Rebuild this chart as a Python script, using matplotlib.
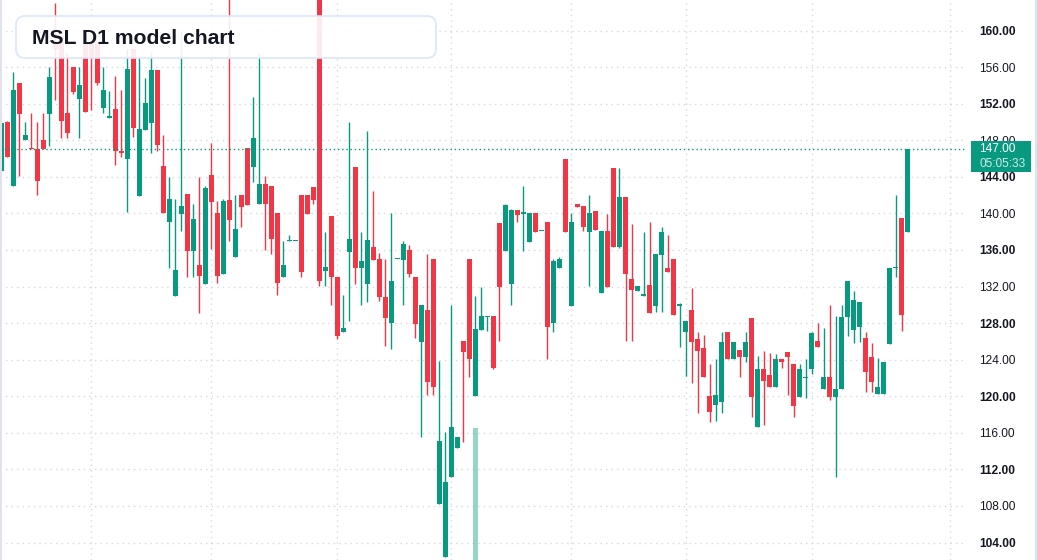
import matplotlib.pyplot as plt
from matplotlib.patches import FancyBboxPatch, Rectangle
from matplotlib.lines import Line2D
import numpy as np

plt.rcParams["font.family"] = ["Liberation Sans", "DejaVu Sans"]

# daily candles, oldest first
opens = [
    144.67, 150.01, 143.05, 154.28, 148.0, 147.06, 147.02, 148.04, 150.92, 158.8,
    158.8, 150.96, 155.99, 152.53, 158.6, 158.8, 158.8, 151.58, 150.38, 151.43,
    146.84, 146.0, 157.96, 141.95, 149.17, 149.94, 155.7, 145.13, 139.01, 131.01,
    139.98, 142.13, 135.89, 134.37, 132.3, 144.2, 140.02, 133.39, 141.47, 135.22,
    141.97, 147.12, 145.06, 141.08, 143.18, 142.99, 140.02, 133.08, 136.94, 136.94,
    142.01, 142.01, 142.87, 164.5, 133.66, 139.71, 133.04, 127.03, 135.81, 145.06,
    133.98, 132.3, 136.32, 135.03, 130.86, 127.97, 135.03, 134.95, 136.0, 133.04,
    125.98, 129.45, 135.03, 108.19, 102.4, 111.15, 114.35, 126.06, 135.03, 120.01,
    127.3, 128.67, 128.79, 138.97, 135.89, 132.3, 140.37, 139.98, 136.86, 140.02,
    138.03, 139.05, 127.97, 134.05, 145.95, 129.88, 141.04, 140.8, 137.96, 140.26,
    131.24, 138.07, 144.98, 136.28, 141.78, 132.84, 131.52, 131.01, 132.18, 129.88,
    135.5, 134.05, 135.03, 129.92, 127.03, 129.45, 126.29, 125.31, 120.05, 118.99,
    119.42, 127.03, 124.03, 125.08, 124.3, 128.59, 116.61, 123.01, 122.35, 121.06,
    124.1, 124.81, 123.56, 119.97, 122.0, 122.93, 126.06, 120.75, 122.08, 119.97,
    120.75, 128.67, 127.3, 127.54, 126.41, 124.3, 120.28, 120.28, 125.67, 134.01,
    139.52, 137.96,
]
highs = [
    149.9, 150.16, 155.48, 154.3, 150.01, 151.0, 150.01, 151.0, 155.99, 162.98,
    158.9, 157.5, 156.0, 155.99, 159.0, 158.9, 158.9, 155.99, 153.4, 155.0,
    153.51, 157.96, 158.0, 157.0, 154.79, 157.7, 155.7, 148.59, 143.96, 141.58,
    160.0, 142.13, 141.0, 143.93, 143.03, 147.71, 141.35, 141.58, 165.0, 141.97,
    141.97, 147.12, 152.78, 157.5, 144.04, 143.0, 140.02, 136.94, 137.64, 136.94,
    142.01, 142.01, 142.87, 164.5, 137.96, 139.71, 133.04, 131.09, 149.97, 145.06,
    137.96, 149.0, 142.44, 135.69, 135.03, 140.02, 135.03, 136.98, 136.55, 133.04,
    129.96, 135.54, 135.03, 123.83, 116.1, 129.96, 115.56, 126.06, 135.03, 131.01,
    131.99, 128.79, 128.79, 138.97, 141.04, 140.49, 140.37, 142.99, 140.02, 140.02,
    138.03, 139.05, 135.03, 135.19, 145.95, 140.02, 141.04, 140.8, 142.05, 140.26,
    138.07, 139.98, 144.98, 144.98, 141.78, 138.85, 132.06, 137.96, 139.05, 135.58,
    138.5, 137.64, 135.03, 130.15, 128.24, 131.87, 127.03, 126.72, 123.52, 124.1,
    127.03, 127.03, 125.94, 125.08, 127.03, 128.59, 124.42, 124.96, 124.77, 124.61,
    124.1, 124.81, 123.56, 123.52, 124.1, 127.03, 128.01, 127.42, 130.03, 128.79,
    130.03, 132.61, 131.52, 130.31, 127.03, 125.86, 124.22, 123.75, 134.05, 142.01,
    139.52, 147.0,
]
lows = [
    144.6, 146.2, 143.0, 144.14, 148.0, 147.0, 142.06, 147.0, 147.42, 152.42,
    148.22, 148.22, 153.1, 148.22, 151.1, 151.3, 154.06, 151.03, 150.38, 145.34,
    146.15, 140.13, 148.33, 141.95, 149.17, 146.66, 146.77, 140.0, 134.05, 131.0,
    138.07, 133.08, 133.08, 129.06, 132.3, 136.12, 132.41, 133.39, 136.98, 135.22,
    138.46, 140.96, 143.42, 141.0, 136.0, 135.61, 131.09, 133.08, 136.94, 136.94,
    133.08, 139.98, 141.08, 132.1, 132.1, 130.03, 126.25, 127.03, 128.2, 132.3,
    130.03, 130.27, 134.9, 130.43, 125.55, 125.16, 135.03, 130.03, 133.08, 126.33,
    115.52, 120.09, 120.09, 108.19, 102.4, 111.15, 114.35, 115.05, 122.08, 120.0,
    127.3, 127.15, 123.01, 126.06, 135.89, 130.03, 139.05, 135.89, 136.86, 137.96,
    138.03, 124.1, 127.03, 134.05, 137.96, 129.88, 140.69, 138.07, 132.1, 138.23,
    131.24, 131.99, 136.28, 136.2, 126.06, 126.06, 131.52, 131.0, 129.06, 129.18,
    129.18, 133.55, 128.9, 125.39, 122.23, 121.49, 118.14, 122.08, 117.16, 117.24,
    118.14, 124.03, 124.03, 122.08, 123.79, 117.78, 116.61, 116.81, 121.06, 121.06,
    123.05, 120.09, 117.78, 119.97, 119.77, 122.47, 125.35, 120.75, 119.54, 111.15,
    120.75, 126.64, 125.78, 125.98, 120.44, 120.44, 120.28, 120.28, 125.67, 133.08,
    127.15, 137.96,
]
closes = [
    149.86, 146.22, 153.51, 150.92, 148.59, 147.02, 143.59, 147.02, 154.9, 157.96,
    150.16, 148.84, 153.33, 154.06, 151.14, 157.16, 154.31, 153.51, 150.67, 146.77,
    146.66, 155.81, 149.39, 149.25, 152.05, 155.7, 147.5, 140.02, 141.58, 133.78,
    140.76, 135.89, 139.4, 133.2, 142.75, 141.27, 133.2, 141.35, 139.32, 138.31,
    140.65, 140.96, 148.3, 143.18, 141.08, 137.25, 132.41, 134.37, 136.94, 136.94,
    133.55, 139.98, 141.47, 132.61, 134.13, 133.08, 126.64, 127.5, 137.21, 133.98,
    134.8, 137.1, 134.95, 130.82, 128.51, 132.61, 135.03, 136.67, 133.39, 127.85,
    129.96, 121.57, 120.98, 115.13, 110.64, 116.65, 115.56, 124.89, 124.1, 127.38,
    128.79, 128.79, 123.13, 131.99, 140.92, 140.37, 139.83, 140.06, 140.02, 137.96,
    138.03, 127.62, 134.8, 135.03, 137.96, 139.05, 140.69, 138.46, 140.02, 138.23,
    138.07, 131.99, 136.28, 141.78, 133.39, 131.67, 132.06, 131.09, 129.06, 135.58,
    137.96, 133.55, 128.9, 130.0, 128.24, 125.98, 124.96, 122.08, 118.33, 120.16,
    125.94, 124.03, 125.94, 124.3, 125.94, 119.97, 123.01, 121.69, 121.06, 124.1,
    123.71, 124.26, 118.95, 123.01, 122.08, 126.95, 125.35, 122.08, 119.97, 120.83,
    128.67, 132.61, 130.54, 130.31, 122.7, 121.53, 121.02, 123.75, 134.05, 134.09,
    128.9, 147.0,
]

# candle indexes where a new month starts (vertical grid)
month_starts = [15, 35, 56, 75, 95, 114, 135, 158]
price_ticks = list(range(104, 161, 4))

# one visible volume column
volume_index = 79
volume_top = 116.5

last_price = "147.00"
countdown = "05:05:33"
title = "MSL D1 model chart"

UP = "#089981"
DOWN = "#F23645"
TEXT = "#131722"
GRID = "#d6d8de"

W, H = 1037, 560
fig = plt.figure(figsize=(W / 100, H / 100), dpi=100)
ax = fig.add_axes([0, 0, 967 / W, 1])

x = np.arange(len(opens))
o = np.array(opens)
c = np.array(closes)
colors = [UP if cc >= oo else DOWN for oo, cc in zip(o, c)]

ax.vlines(x, lows, highs, colors=colors, linewidth=1.0, zorder=3)
body_bottom = np.minimum(o, c)
body_height = np.maximum(np.abs(c - o), 0.12)
ax.bar(x, body_height, bottom=body_bottom, width=0.8, color=colors,
       linewidth=0, zorder=4)

ax.bar(volume_index, volume_top - 100, bottom=100, width=0.8, color=UP,
       alpha=0.42, linewidth=0, zorder=2)

ax.axhline(float(last_price), color=UP, linestyle=(0, (1, 2)), linewidth=1.0,
           zorder=5)

ax.set_xlim(-0.22, 160.9)
ax.set_ylim(102.09, 163.34)

ax.set_xticks(month_starts)
ax.set_xticklabels([])
ax.tick_params(axis="x", length=0)
ax.set_yticks(price_ticks)
ax.yaxis.tick_right()
ax.tick_params(axis="y", length=0, pad=8.6, labelsize=8.6, labelcolor=TEXT)
ax.set_yticklabels([f"{t:.2f}" for t in price_ticks])
for label, t in zip(ax.get_yticklabels(), price_ticks):
    if t % 8 == 0:
        label.set_fontweight("bold")
ax.grid(True, color=GRID, linestyle=(0, (1, 3)), linewidth=1.0)
ax.set_axisbelow(True)
for spine in ax.spines.values():
    spine.set_visible(False)

# title box
box = FancyBboxPatch((0.16, (H - 58) / 100), 4.20, 0.42,
                     boxstyle="round,pad=0,rounding_size=0.09",
                     transform=fig.dpi_scale_trans, facecolor="white",
                     edgecolor="#dbe6fa", linewidth=1.3, alpha=0.9, zorder=5)
fig.add_artist(box)
fig.text(32 / W, 1 - 38 / H, title, fontsize=15.2, fontweight="bold",
         color=TEXT, va="center", ha="left", zorder=6)

# last price tag (drawn over the 148.00 label, as in the terminal)
tag = Rectangle((971 / 100, (H - 172) / 100), 0.60, 0.31,
                transform=fig.dpi_scale_trans, facecolor=UP, edgecolor="none",
                zorder=5)
fig.add_artist(tag)
fig.text(979 / W, 1 - 149.5 / H, last_price, fontsize=8.6, color="white",
         va="center", ha="left", zorder=6)
fig.text(979 / W, 1 - 164 / H, countdown, fontsize=8.6, color="white",
         alpha=0.8, va="center", ha="left", zorder=6)

# panel borders
fig.add_artist(Line2D([1 / W, 1 / W], [0, 1], color="#e0e3eb", linewidth=1.5,
                      transform=fig.transFigure))
fig.add_artist(Line2D([1036 / W, 1036 / W], [0, 1], color="#e0e3eb",
                      linewidth=1.5, transform=fig.transFigure))

fig.savefig("out.png", dpi=100)
plt.close(fig)
